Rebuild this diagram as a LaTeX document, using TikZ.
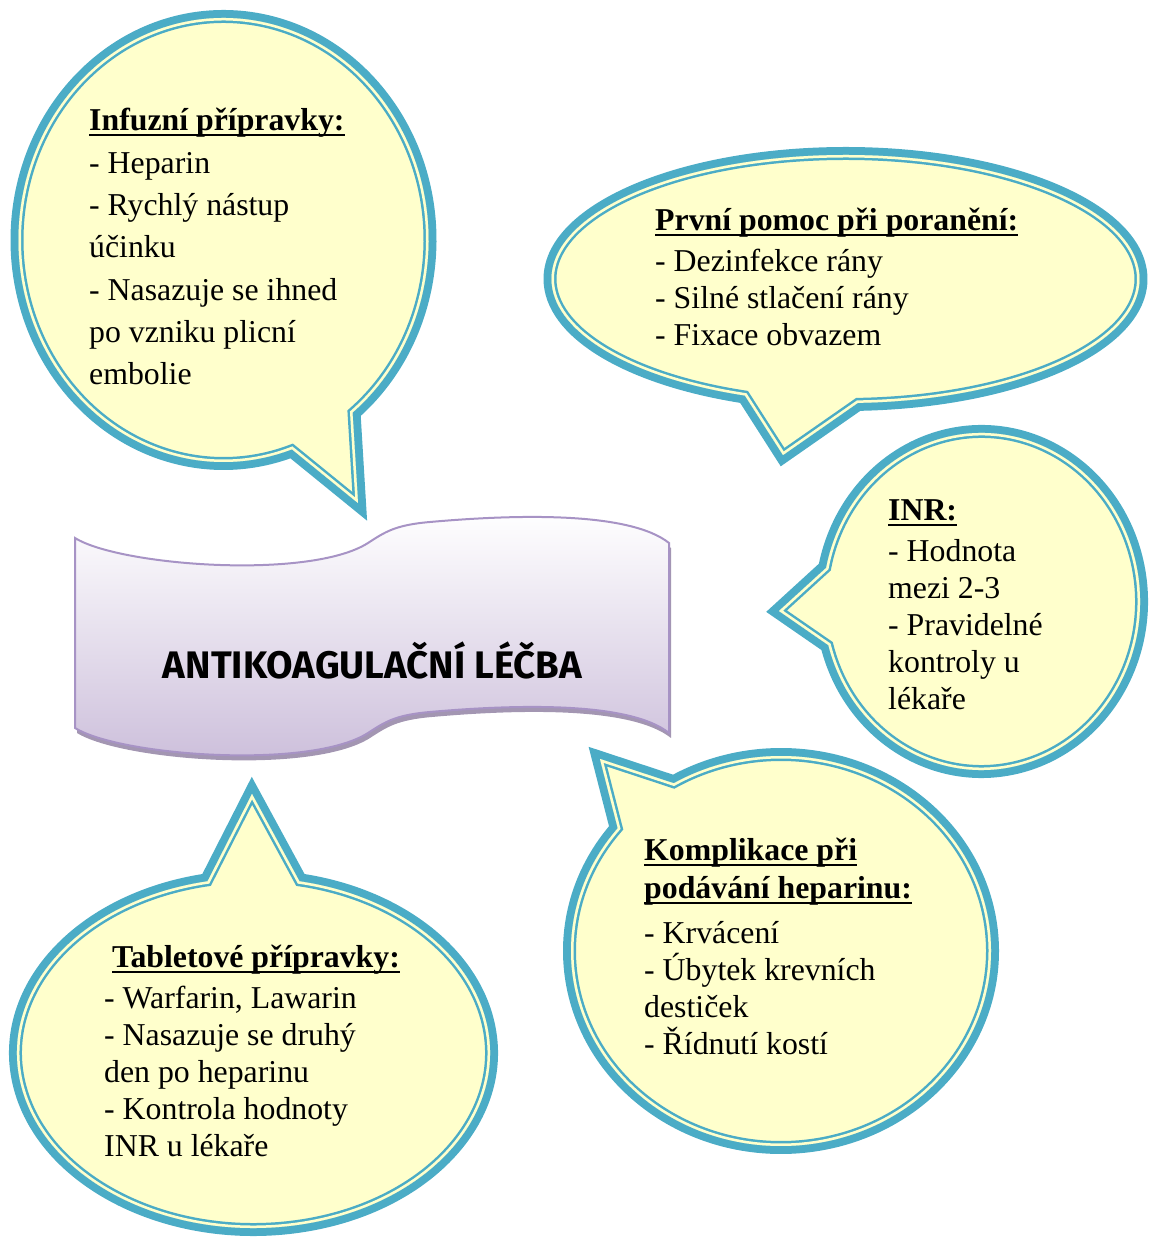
\documentclass[tikz,border=0pt]{standalone}
\usepackage{fontspec}
\setmainfont{Liberation Serif}
\newfontfamily\banfont{Fira Sans}
\usepackage{graphicx}
\definecolor{bteal}{HTML}{4BACC6}
\definecolor{bcream}{HTML}{FFFFCC}
\definecolor{banedge}{HTML}{A793C5}
\definecolor{banbot}{HTML}{CBBDDA}
\definecolor{banmid}{HTML}{E8E2EF}
\definecolor{banshadow}{HTML}{A396B2}
\newcommand\ulh[1]{\setbox0\hbox{\bfseries #1}\rlap{\vrule height -3pt depth 5.5pt width \wd0}\box0}
\newcommand\bubble[1]{%
  \draw[bteal, line width=16pt] #1;
  \fill[bcream] #1;
  \begin{scope}
    \clip #1;
    \draw[bteal, line width=10pt] #1;
    \draw[bcream, line width=5pt] #1;
  \end{scope}}
\newcommand\banpath{(75,699) .. controls (120,671) and (310,657) .. (368,694) .. controls (385,705) and (395,712) .. (430,715) .. controls (520,723) and (630,725) .. (669,694) -- (669,504) .. controls (630,535) and (520,533) .. (430,525) .. controls (395,522) and (385,515) .. (368,504) .. controls (310,467) and (120,481) .. (75,509) -- cycle}
\tikzset{
  txt/.style={anchor=base west, inner sep=0pt, font=\fontsize{31.8}{37}\selectfont},
}
\begin{document}
\begin{tikzpicture}[x=1pt,y=1pt,line join=miter]
\useasboundingbox (0,0) rectangle (1150,1237);
% bubbles
\bubble{(223.5,997) ++(-51:205 and 222) arc[start angle=-51,end angle=289.5,x radius=205,y radius=222] -- (358,734) -- cycle}
\bubble{(845.5,958) ++(-87.6:294 and 124) arc[start angle=-87.6,end angle=250,x radius=294,y radius=124] -- (783,782) -- cycle}
\bubble{(981.5,635.5) ++(195:158.5 and 168.5) arc[start angle=195,end angle=528.5,x radius=158.5,y radius=168.5] -- (779,626) -- cycle}
\bubble{(781,286) ++(141:210 and 195) arc[start angle=141,end angle=480.7,x radius=210,y radius=195] -- (600,478) -- cycle}
\bubble{(253.5,184) ++(101.2:236.5 and 175) arc[start angle=101.2,end angle=438.8,x radius=236.5,y radius=175] -- (252,443) -- cycle}
% banner
\fill[banshadow, shift={(2,-5)}] \banpath;
\shade[top color=white, middle color=banmid, bottom color=banbot] \banpath;
\draw[banedge, line width=2pt] \banpath;
\node[inner sep=0pt] (title) at (372.5,577) {\resizebox{419pt}{!}{\banfont\bfseries ANTIKOAGULAČNÍ LÉČBA}};
% texts
\node[txt] (t1) at (89,1106) {\vtop{\baselineskip=42.3pt\lineskiplimit=-100pt
  \hbox{\ulh{Infuzní přípravky:}}
  \hbox{- Heparin}
  \hbox{- Rychlý nástup}
  \hbox{účinku}
  \hbox{- Nasazuje se ihned}
  \hbox{po vzniku plicní}
  \hbox{embolie}}};
\node[txt] (t2) at (655,1006) {\vtop{\baselineskip=37pt\lineskiplimit=-100pt
  \hbox{\ulh{První pomoc při poranění:}}\vskip4pt
  \hbox{- Dezinfekce rány}
  \hbox{- Silné stlačení rány}
  \hbox{- Fixace obvazem}}};
\node[txt] (t3) at (888,716) {\vtop{\baselineskip=37pt\lineskiplimit=-100pt
  \hbox{\ulh{INR:}}\vskip4pt
  \hbox{- Hodnota}
  \hbox{mezi 2-3}
  \hbox{- Pravidelné}
  \hbox{kontroly u}
  \hbox{lékaře}}};
\node[txt] (t4) at (644,376) {\vtop{\baselineskip=37pt\lineskiplimit=-100pt
  \hbox{\ulh{Komplikace při}}\vskip1pt
  \hbox{\ulh{podávání heparinu:}}\vskip8pt
  \hbox{- Krvácení}
  \hbox{- Úbytek krevních}
  \hbox{destiček}
  \hbox{- Řídnutí kostí}}};
\node[txt] (t5) at (104,269) {\vtop{\baselineskip=37pt\lineskiplimit=-100pt
  \hbox{\kern8pt\ulh{Tabletové přípravky:}}\vskip4pt
  \hbox{- Warfarin, Lawarin}
  \hbox{- Nasazuje se druhý}
  \hbox{den po heparinu}
  \hbox{- Kontrola hodnoty}
  \hbox{INR u lékaře}}};
\end{tikzpicture}
\end{document}
